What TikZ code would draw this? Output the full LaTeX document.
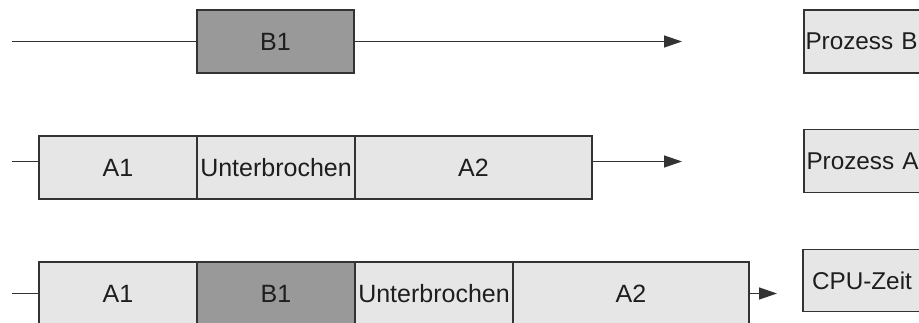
\documentclass[tikz,border=0pt]{standalone}
\usepackage{fontspec}
\setmainfont{Liberation Sans}
\usetikzlibrary{arrows.meta}
\definecolor{lightfill}{HTML}{E6E6E6}
\definecolor{darkfill}{HTML}{999999}
\definecolor{edge}{HTML}{333333}
\definecolor{txt}{HTML}{1E1E1E}
\tikzset{
  seg/.style={draw=edge, line width=1.3pt, minimum height=63pt, inner sep=0pt, outer sep=0pt,
    text=txt, font=\fontsize{25}{30}\selectfont, anchor=west},
  lightseg/.style={seg, fill=lightfill},
  darkseg/.style={seg, fill=darkfill},
  labelbox/.style={seg, fill=lightfill, minimum height=63pt, text width=124pt, align=left,
    inner xsep=1.5pt, font=\fontsize{24.3}{29}\selectfont},
  conn/.style={draw=edge, line width=1.3pt},
  arr/.style={conn, -{Triangle[length=18pt,width=12pt]}}
}
\begin{document}
\begin{tikzpicture}[x=1pt,y=-1pt]
\clip (0,0) rectangle (919,323);
\useasboundingbox (0,0) rectangle (919,323);
% Row 1
\node[darkseg, minimum width=157pt] (b1) at (197,41.5) {B1};
\coordinate (s1) at (12,41.5);
\coordinate (e1) at (682,41.5);
\draw[conn] (s1) -- (b1.west);
\draw[arr] (b1.east) -- (e1);
\node[labelbox] (pb) at (804,41.5) {Prozess B};
% Row 2
\node[lightseg, minimum width=158pt] (a1r2) at (39,167.5) {A1};
\node[lightseg, minimum width=158pt] (ur2) at (a1r2.east) {Unterbrochen};
\node[lightseg, minimum width=237pt] (a2r2) at (ur2.east) {A2};
\coordinate (s2) at (12,161.5);
\coordinate (e2) at (682,161.5);
\draw[conn] (s2) -- (s2 -| a1r2.west);
\draw[arr] (a2r2.east |- e2) -- (e2);
\node[labelbox, inner xsep=2.5pt] (pa) at (804,161) {Prozess A};
% Row 3
\node[lightseg, minimum width=158pt] (a1r3) at (39,293.5) {A1};
\node[darkseg, minimum width=158pt] (b1r3) at (a1r3.east) {B1};
\node[lightseg, minimum width=158pt] (ur3) at (b1r3.east) {Unterbrochen};
\node[lightseg, minimum width=236pt] (a2r3) at (ur3.east) {A2};
\coordinate (s3) at (12,293.5);
\coordinate (e3) at (777,293.5);
\draw[conn] (s3) -- (a1r3.west);
\draw[arr] (a2r3.east) -- (e3);
\node[labelbox, inner xsep=9pt, minimum height=62pt] (cpu) at (803,280.5) {CPU-Zeit};
\end{tikzpicture}
\end{document}
